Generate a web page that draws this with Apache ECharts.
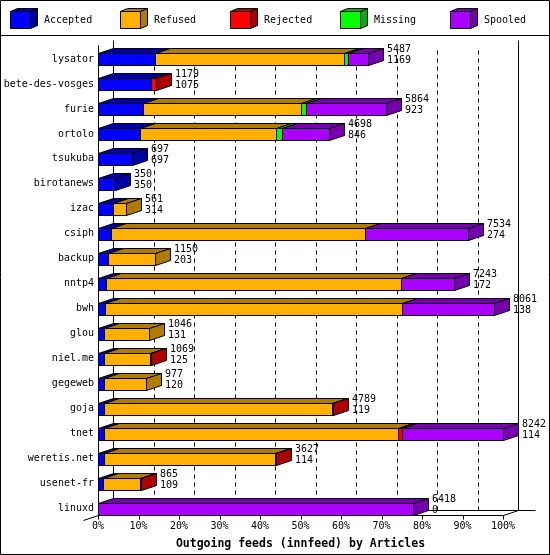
<!DOCTYPE html>
<html><head><meta charset="utf-8">
<script src="https://cdn.jsdelivr.net/npm/echarts@6/dist/echarts.min.js"></script>
<style>html,body{margin:0;padding:0;background:#fff}#c{width:550px;height:555px}</style>
</head><body><div id="c"></div>
<script>
const categories = ['lysator','bete-des-vosges','furie','ortolo','tsukuba','birotanews','izac','csiph','backup','nntp4','bwh','glou','niel.me','gegeweb','goja','tnet','weretis.net','usenet-fr','linuxd'];
const offered  = [5487,1179,5864,4698,697,350,561,7534,1150,7243,8061,1046,1069,977,4789,8242,3627,865,6418];
const accepted = [1169,1075,923,846,697,350,314,274,203,172,138,131,125,120,119,114,114,109,0];
const refused  = [3840,0,3215,2782,0,0,247,5169,947,6000,6050,915,934,857,4650,5997,3498,751,0];
const rejected = [0,104,0,0,0,0,0,0,0,0,0,0,10,0,20,81,15,5,0];
const missing  = [70,0,100,115,0,0,0,0,0,0,0,0,0,0,0,0,0,0,0];
const spooled  = [408,0,1626,955,0,0,0,2091,0,1071,1873,0,0,0,0,2050,0,0,6418];
const statusNames = ['Accepted','Refused','Rejected','Missing','Spooled'];
const xTicks = [0,10,20,30,40,50,60,70,80,90,100];
const xTitle = 'Outgoing feeds (innfeed) by Articles';

const frontColors = ['#0000ff','#ffb000','#ff0000','#00ff00','#aa00ff'];
const darkColors  = ['#0000a8','#b07c00','#b00000','#00b000','#7600b0'];
const FONT = 'DejaVu Sans Mono';
const DX = 15, DY = 5, HALF = 6;
const segs = [accepted, refused, rejected, missing, spooled];
const maxTotal = Math.max(...offered);
const pct = v => v / maxTotal * 100;
const px = v => Math.round(v) + 0.5;

const series = [];

// frame (walls, grid, axes)
series.push({
  type: 'custom', silent: true, z: 1, data: [[0, 0]],
  encode: { x: 0, y: 1 },
  renderItem(params, api) {
    const cTop = api.coord([0, 0])[1];
    const cBot = api.coord([0, categories.length - 1])[1];
    const yF = px(cBot + HALF);
    const x0 = px(api.coord([0, 0])[0]);
    const x100 = px(api.coord([100, 0])[0]);
    const ch = [];
    const line = (a, b, c, d, dash) => ch.push({ type: 'line', shape: { x1: a, y1: b, x2: c, y2: d }, style: { stroke: '#000', lineWidth: 1, lineDash: dash || null } });
    xTicks.forEach(t => {
      const xb = px(api.coord([t, 0])[0] + DX);
      if (t === xTicks[0] || t === xTicks[xTicks.length - 1]) line(xb, px(cTop - 19), xb, yF - DY);
      else line(xb, px(cTop - 9), xb, yF - DY, [4, 4]);
      const xf = px(api.coord([t, 0])[0]);
      line(xf, yF, xf, yF + 4);
    });
    line(x0 + DX, yF - DY, x100 + DX + 17, yF - DY);
    line(x0, yF, x100, yF);
    line(x0 - 15, yF + 5, x0, yF);
    line(x100, yF, x100 + DX, yF - DY);
    line(x0, px(cTop - 14), x0, yF);
    return { type: 'group', children: ch };
  }
});

// bars, one series per status
segs.forEach((arr, k) => {
  const data = categories.map((c, i) => {
    let start = 0;
    for (let j = 0; j < k; j++) start += segs[j][i];
    let after = 0;
    for (let j = k + 1; j < segs.length; j++) after += segs[j][i];
    return [pct(start), pct(start + arr[i]), i, after === 0 ? 1 : 0, arr[i]];
  });
  series.push({
    type: 'custom', name: statusNames[k], z: 2, data,
    encode: { x: [0, 1], y: 2 },
    renderItem(params, api) {
      if (api.value(4) === 0) return { type: 'group', children: [] };
      const p0 = api.coord([api.value(0), api.value(2)]);
      const p1 = api.coord([api.value(1), api.value(2)]);
      const x0 = px(p0[0]), x1 = px(p1[0]);
      const y0 = px(p0[1] - HALF), y1 = y0 + 2 * HALF;
      const st = f => ({ fill: f, stroke: '#000', lineWidth: 1 });
      const ch = [
        { type: 'polygon', shape: { points: [[x0, y0], [x1, y0], [x1 + DX, y0 - DY], [x0 + DX, y0 - DY]] }, style: st(darkColors[k]) },
        { type: 'rect', shape: { x: x0, y: y0, width: x1 - x0, height: y1 - y0 }, style: st(frontColors[k]) }
      ];
      if (api.value(3) === 1) ch.push({ type: 'polygon', shape: { points: [[x1, y0], [x1 + DX, y0 - DY], [x1 + DX, y1 - DY], [x1, y1]] }, style: st(darkColors[k]) });
      return { type: 'group', children: ch };
    }
  });
});

// value labels
series.push({
  type: 'custom', silent: true, z: 3,
  data: categories.map((c, i) => [pct(offered[i]), i, offered[i], accepted[i]]),
  encode: { x: 0, y: 1 },
  renderItem(params, api) {
    const p = api.coord([api.value(0), api.value(1)]);
    return { type: 'text', x: Math.round(p[0]) + DX + 4, y: p[1] - 4,
      style: { text: api.value(2) + '\n' + api.value(3), fill: '#000', font: '10px "' + FONT + '"', lineHeight: 11, align: 'left', verticalAlign: 'middle' } };
  }
});

// legend (3D cubes)
const legendChildren = [];
statusNames.forEach((n, k) => {
  const x = 10.5 + k * 110, y = 11.5;
  const st = f => ({ fill: f, stroke: '#000', lineWidth: 1 });
  legendChildren.push({ type: 'polygon', shape: { points: [[x, y], [x + 20, y], [x + 27, y - 3], [x + 7, y - 3]] }, style: st(darkColors[k]) });
  legendChildren.push({ type: 'polygon', shape: { points: [[x + 20, y], [x + 27, y - 3], [x + 27, y + 14], [x + 20, y + 17]] }, style: st(darkColors[k]) });
  legendChildren.push({ type: 'rect', shape: { x: x, y: y, width: 20, height: 17 }, style: st(frontColors[k]) });
  legendChildren.push({ type: 'text', x: x + 33.5, y: 20, style: { text: n, fill: '#000', font: '10px "' + FONT + '"', verticalAlign: 'middle', align: 'left' } });
});

const chart = echarts.init(document.getElementById('c'), null, { renderer: 'canvas' });
chart.setOption({
  backgroundColor: '#fff',
  animation: false,
  grid: { left: 98, top: 46.5, width: 405, height: 475, containLabel: false },
  xAxis: {
    type: 'value', min: 0, max: 100, interval: 10,
    axisLine: { show: false }, axisTick: { show: false }, splitLine: { show: false },
    axisLabel: { formatter: '{value}%', margin: 0, color: '#000', fontFamily: FONT, fontSize: 10 },
    name: xTitle, nameLocation: 'middle', nameGap: 17,
    nameTextStyle: { color: '#000', fontFamily: FONT, fontSize: 11.5, fontWeight: 'bold' }
  },
  yAxis: {
    type: 'category', inverse: true, data: categories,
    axisLine: { show: false }, axisTick: { show: false }, splitLine: { show: false },
    axisLabel: { margin: 4, color: '#000', fontFamily: FONT, fontSize: 10, interval: 0 }
  },
  graphic: [
    { type: 'rect', shape: { x: 0.5, y: 0.5, width: 549, height: 554 }, style: { fill: null, stroke: '#000', lineWidth: 1 }, z: 10 },
    { type: 'line', shape: { x1: 0, y1: 35.5, x2: 550, y2: 35.5 }, style: { stroke: '#000', lineWidth: 1 }, z: 10 },
    { type: 'group', children: legendChildren, z: 10 }
  ],
  series
});
</script></body></html>
